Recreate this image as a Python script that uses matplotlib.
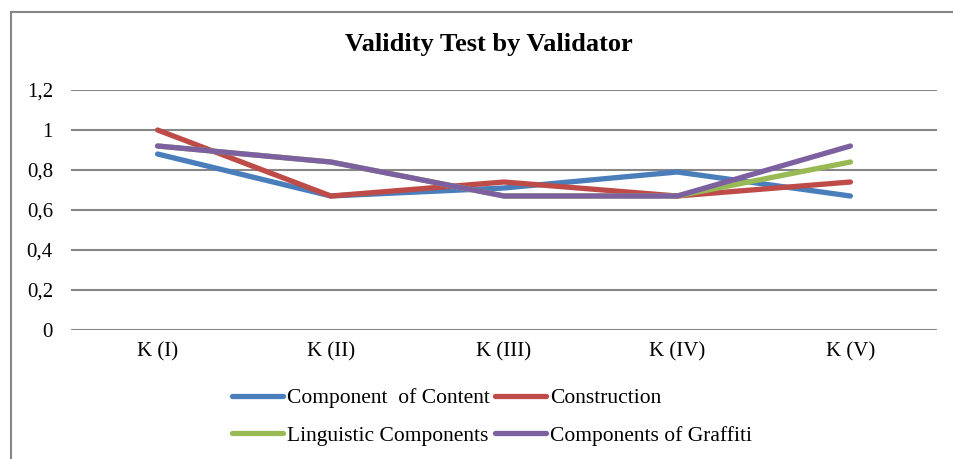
import matplotlib
matplotlib.use("Agg")
import matplotlib.pyplot as plt
from matplotlib.lines import Line2D
from matplotlib.ticker import FixedLocator, FuncFormatter

categories = ["K (I)", "K (II)", "K (III)", "K (IV)", "K (V)"]
content = [0.88, 0.67, 0.71, 0.79, 0.67]
construction = [1.00, 0.67, 0.74, 0.67, 0.74]
linguistic = [0.92, 0.84, 0.67, 0.67, 0.84]
graffiti = [0.92, 0.84, 0.67, 0.67, 0.92]
series_names = ["Component  of Content", "Construction", "Linguistic Components", "Components of Graffiti"]
colors = ["#4A7EBB", "#BE4B48", "#98B954", "#7D60A0"]
yticks = [0, 0.2, 0.4, 0.6, 0.8, 1.0, 1.2]

plt.rcParams['font.family'] = ['Liberation Serif', 'DejaVu Serif']

W, H = 954, 459
fig = plt.figure(figsize=(W/100, H/100), dpi=100)
fig.patch.set_facecolor('white')

# outer chart border (top and left visible)
fig.add_artist(Line2D([11/W, 1.05], [1 - 12/H, 1 - 12/H], transform=fig.transFigure,
                      color='#868686', linewidth=1.5))
fig.add_artist(Line2D([11/W, 11/W], [-0.05, 1 - 12/H], transform=fig.transFigure,
                      color='#868686', linewidth=1.5))

ax = fig.add_axes([71/W, 1 - 330/H, (937-71)/W, (330-90)/H])
x = list(range(len(categories)))
handles = []
for vals, name, c in zip([content, construction, linguistic, graffiti], series_names, colors):
    h, = ax.plot(x, vals, color=c, linewidth=3.8, label=name, solid_capstyle='round', solid_joinstyle='round')
    handles.append(h)

ax.set_xlim(-0.5, len(categories) - 0.5)
ax.set_ylim(0, 1.2)
ax.yaxis.set_major_locator(FixedLocator(yticks))
ax.yaxis.set_major_formatter(FuncFormatter(lambda v, p: ('%g' % round(v, 1)).replace('.', ',')))
ax.set_xticks(x)
ax.set_xticklabels(categories)
ax.grid(axis='y', color='#878787', linewidth=1.5)
ax.set_axisbelow(True)
for s in ax.spines.values():
    s.set_visible(False)
ax.tick_params(length=0, labelsize=15, pad=9)
ax.tick_params(axis='y', pad=13)

fig.text(489/W, 1 - 45/H, "Validity Test by Validator", ha='center', va='center',
         fontsize=19, fontweight='bold')

order = [0, 2, 1, 3]
leg = fig.legend([handles[i] for i in order], [series_names[i] for i in order],
                 loc='center', bbox_to_anchor=(492/W, 1 - 417/H), ncol=2, frameon=False,
                 fontsize=15.5, handlelength=2.35, handletextpad=0.2, columnspacing=0.25,
                 labelspacing=0.8)
fig.savefig("out.png", dpi=100, facecolor='white')
